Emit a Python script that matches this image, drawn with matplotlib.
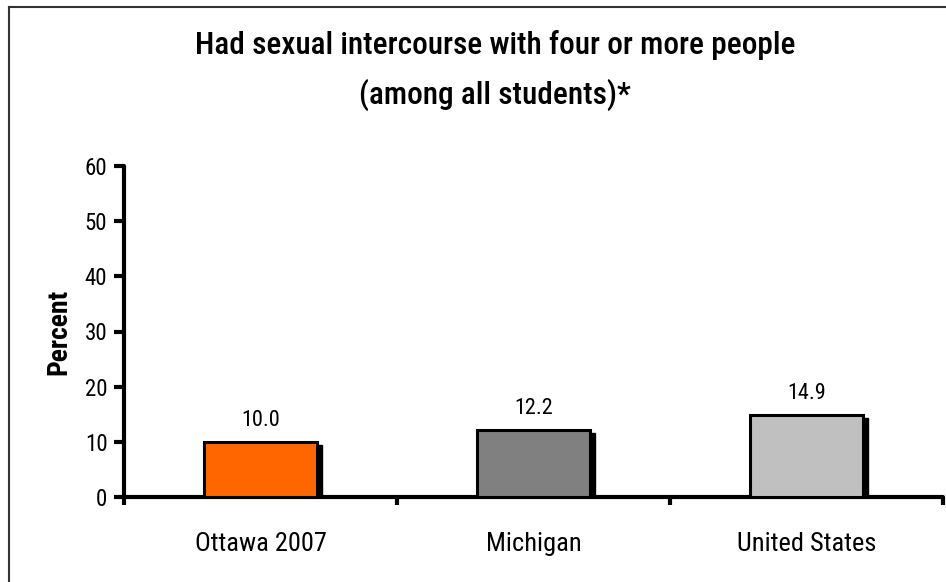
import matplotlib.pyplot as plt
import matplotlib.transforms as mtransforms
from matplotlib.lines import Line2D
from matplotlib import font_manager

# Data
categories = ['Ottawa 2007', 'Michigan', 'United States']
values = [10.0, 12.2, 14.9]
bar_colors = ['#FF6600', '#808080', '#C0C0C0']
y_ticks = [0, 10, 20, 30, 40, 50, 60]

# pick the narrowest font we have
names = {f.name for f in font_manager.fontManager.ttflist}
font = 'DejaVu Sans'
for cand in ['Liberation Sans Narrow', 'Roboto Condensed', 'Open Sans Condensed', 'Roboto']:
    if cand in names:
        font = cand
        break
plt.rcParams['font.family'] = [font, 'DejaVu Sans']

fig = plt.figure(figsize=(9.46, 5.82), dpi=100)
ax = fig.add_axes([124 / 946, (582 - 497) / 582, (943 - 124) / 946, (497 - 166) / 582])

x = range(len(categories))
width = 0.415

# shadow bars, shifted a few pixels right and down
shadow = ax.bar(x, values, width=width, color='black', edgecolor='black', zorder=2)
shift = mtransforms.ScaledTranslation(5 / 100, -3 / 100, fig.dpi_scale_trans)
for p in shadow:
    p.set_transform(ax.transData + shift)

bars = ax.bar(x, values, width=width, color=bar_colors, edgecolor='black',
              linewidth=2.2, zorder=3)

for xi, v in zip(x, values):
    ax.annotate(f'{v:.1f}', (xi, v), xytext=(0, 8), textcoords='offset points',
                ha='center', va='bottom', fontsize=16)

ax.set_xlim(-0.5, 2.5)
ax.set_ylim(0, 60)
ax.set_yticks(y_ticks)
ax.set_xticks([-0.5, 0.5, 1.5, 2.5])
ax.set_xticklabels([])
ax.set_xticks(list(x), minor=True)
ax.set_xticklabels(categories, minor=True, fontsize=19)
ax.tick_params(axis='x', which='minor', length=0, pad=25)
ax.tick_params(axis='x', which='major', length=6, width=3, direction='out')
ax.tick_params(axis='y', length=7, width=3, direction='out', labelsize=16.5, pad=5)

for s in ['top', 'right']:
    ax.spines[s].set_visible(False)
for s in ['left', 'bottom']:
    ax.spines[s].set_linewidth(3)
    ax.spines[s].set_capstyle('round')

ax.set_ylabel('Percent', fontsize=20, fontweight='bold', labelpad=9)

fig.text(495 / 946, 1 - 45 / 582, 'Had sexual intercourse with four or more people',
         ha='center', va='center', fontsize=22.5, fontweight='medium')
fig.text(495 / 946, 1 - 95 / 582, '(among all students)*',
         ha='center', va='center', fontsize=22.5, fontweight='medium')

# frame around the chart (left and top edges visible)
fig.add_artist(Line2D([9 / 946, 9 / 946], [0, 1 - 7 / 582], color='#333333', lw=1.5,
                      transform=fig.transFigure))
fig.add_artist(Line2D([9 / 946, 1], [1 - 7 / 582, 1 - 7 / 582], color='#333333', lw=1.5,
                      transform=fig.transFigure))

fig.savefig('out.png', dpi=100)
